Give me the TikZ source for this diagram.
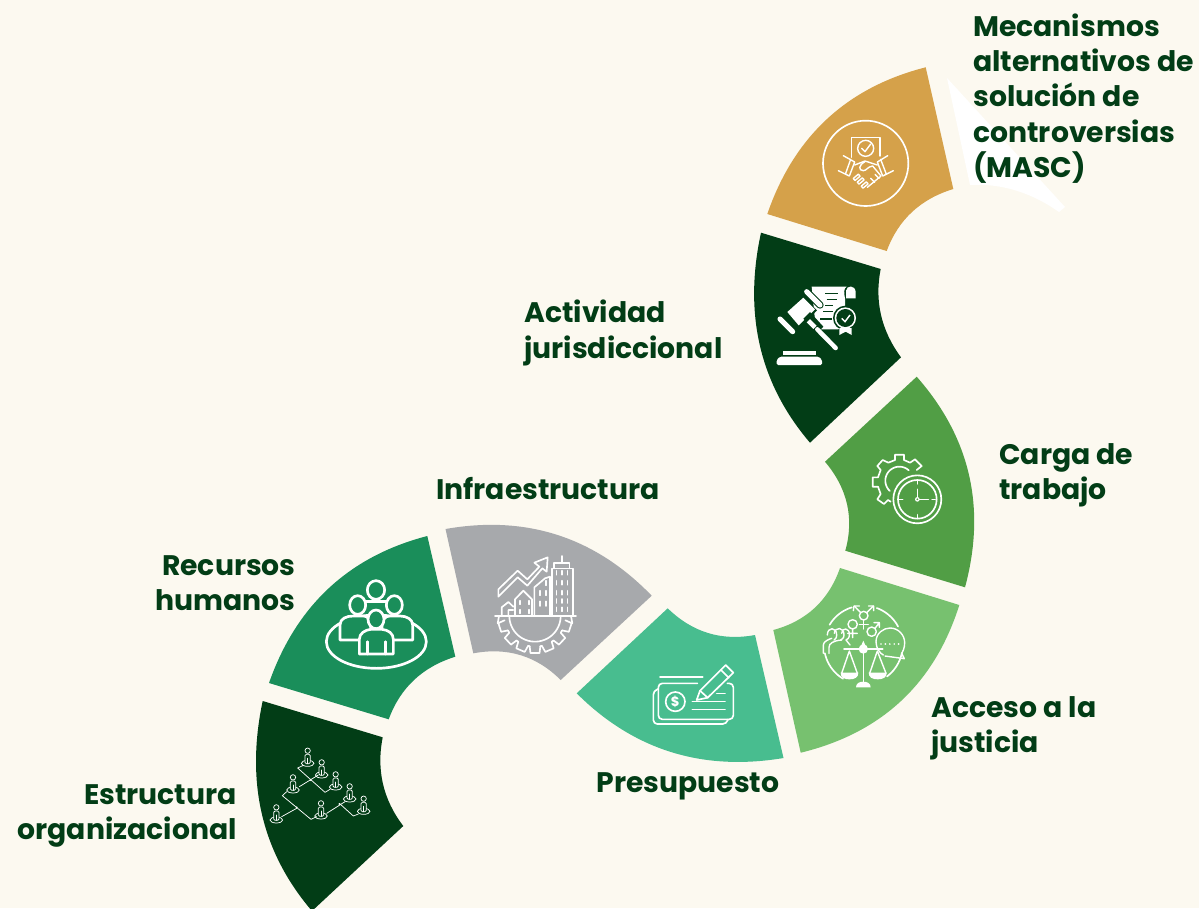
\documentclass[tikz,border=0pt]{standalone}
\usepackage{fontspec}
\setmainfont{Poppins}
\usetikzlibrary{calc}
\definecolor{bgc}{HTML}{FCF9F0}
\definecolor{dk}{HTML}{023D16}
\definecolor{cg}{HTML}{1A8E5A}
\definecolor{gr}{HTML}{A7A9AC}
\definecolor{tq}{HTML}{48BD8F}
\definecolor{lg}{HTML}{77C16F}
\definecolor{mg}{HTML}{519E45}
\definecolor{au}{HTML}{D5A14A}
\tikzset{
  lab/.style={text=dk,font=\bfseries\fontsize{21.2}{26.5}\selectfont,inner sep=0pt,align=left},
  labr/.style={lab,align=right},
  ic/.style={draw=white,line width=1.25pt,line cap=round,line join=round},
  icn/.style={ic,line width=1.05pt},
  icb/.style={draw=white,line width=2pt,line cap=round,line join=round},
  ict/.style={draw=white,line width=.55pt,line cap=round,line join=round}
}
\newcommand\seg[7]{% colour, A, M1, B, C, M2, D
  \coordinate (qa) at ($2*(#3)-.5*(#2)-.5*(#4)$);
  \coordinate (qb) at ($2*(#6)-.5*(#5)-.5*(#7)$);
  \fill[#1] (#2) .. controls ($(#2)!2/3!(qa)$) and ($(#4)!2/3!(qa)$) .. (#4)
   -- (#5) .. controls ($(#5)!2/3!(qb)$) and ($(#7)!2/3!(qb)$) .. (#7) -- cycle;}
\newcommand\parc[6][ic]{\draw[#1] plot[domain=#5:#6,samples=30,smooth] ({#2+#4*cos(\x)},{#3+#4*sin(\x)});}
\newcommand\teeth[6][ic]{% cx cy r1 r2 list
  \foreach \a in {#6}{\draw[#1] ({#2+#4*cos(\a-10)},{#3+#4*sin(\a-10)}) -- ({#2+#5*cos(\a-7)},{#3+#5*sin(\a-7)}) -- ({#2+#5*cos(\a+7)},{#3+#5*sin(\a+7)}) -- ({#2+#4*cos(\a+10)},{#3+#4*sin(\a+10)});}}
\newcommand\orgp[2]{%
  \draw[ict] (#1,#2+12) ellipse (19 and 9);
  \draw[ict,fill=dk] (#1,#2-26) circle (8);
  \draw[ict,fill=dk,rounded corners=1pt] (#1-8,#2+13) -- (#1-8,#2-15) -- (#1+8,#2-15) -- (#1+8,#2+13) -- cycle;
  \draw[ict] (#1,#2+13) -- (#1,#2-3);}
\begin{document}
\begin{tikzpicture}[x=0.75pt,y=-0.75pt]
\useasboundingbox (0,0) rectangle (1199,908);
\clip (0,0) rectangle (1199,908);
\fill[bgc] (0,0) rectangle (1199,908);
% stray white shape
\fill[white] (947,78) -- (1065,207) -- (1059,212) .. controls (1035,195) and (1005,183) .. (970,185) -- cycle;
% ring segments
\seg{dk}{262.7,701}{262,814.5}{312,911}{403.3,826}{383,784}{382.7,737.3}
\seg{cg}{269,683}{329,588}{427.3,536}{455.3,656.7}{414,680}{388.7,719.3}
\seg{gr}{445.5,529}{557.6,535}{651.7,595.7}{560.7,680}{520.7,655.2}{473.3,653.3}
\seg{tq}{576.7,693.3}{671,752}{783.5,758}{755,635}{708,633}{667.7,608.3}
\seg{lg}{800.7,752.7}{901,701}{959.3,605}{840,568}{814.8,607.8}{773.3,630}
\seg{mg}{916.7,376.7}{969,475}{965,587.3}{845.3,550.7}{847,504}{825,461.7}
\seg{dk}{761,232.7}{760,346}{810,442.7}{901,357.3}{881,315}{880.7,269}
\seg{au}{767.3,214}{827,119}{925.7,67.3}{953.3,189}{912,212}{886.7,251}
% --- handshake icon
\begin{scope}[shift={(750,50)},scale=1/3]
 \draw[ic] (347,340) circle (128);
 \draw[icn] (305,322) -- (305,263) -- (390,263) -- (390,318);
 \draw[icn] (347,295) circle (24);
 \draw[icn] (335,295) -- (345,305) -- (362,282);
 \draw[icn] (280,317) -- (314,336) (265,362) -- (298,378) (302,328) -- (287,370) (314,336) -- (298,378);
 \draw[icn] (413,317) -- (382,336) (430,362) -- (398,378) (392,328) -- (408,370) (382,336) -- (398,378);
 \draw[icn] (314,345) -- (345,333) -- (382,345);
 \draw[icn] (345,335) .. controls (325,345) and (325,362) .. (340,362) .. controls (350,362) and (352,350) .. (368,348) -- (393,378) -- (352,412);
 \foreach \p/\q in {320/382,332/393,344/405}{\draw[icn,fill=au,rotate around={40:(\p,\q)}] (\p-10,\q-4) rectangle (\p+10,\q+4);}
 \draw[icn] (362,385) -- (374,397) (375,373) -- (387,385);
\end{scope}
% --- gavel icon
\begin{scope}[shift={(740,230)},scale=1/3]
 \fill[white] (215,170) -- (320,170) .. controls (310,175) and (312,190) .. (315,205) -- (315,280) -- (295,298) -- (225,298) -- (225,270) -- cycle;
 \fill[white] (318,205) -- (318,182) .. controls (320,165) and (345,165) .. (347,185) -- (347,205) -- cycle;
 \draw[dk,line width=.9pt] (255,190) -- (295,190) (260,208) -- (290,208) (255,226) -- (280,226) (250,245) -- (280,245) (240,267) -- (275,267);
 \fill[dk] (316,264) circle (37);
 \fill[white] (316,264) circle (32);
 \fill[dk] (316,264) circle (27);
 \fill[white] (298,294) -- (335,294) -- (335,315) -- (317,305) -- (298,315) -- cycle;
 \draw[white,line width=1.1pt] (305,265) -- (315,275) -- (330,255);
 \draw[dk,line width=5.5pt,line cap=round] (200,185) -- (240,225);
 \draw[white,line width=3.8pt,line cap=round] (120,267) -- (158,305);
 \draw[white,line width=3.8pt,line cap=round] (200,185) -- (240,225);
 \fill[dk] (131,254) -- (187,198) -- (231,241) -- (175,297) -- cycle;
 \fill[white] (142,246) -- (190,203) -- (225,238) -- (176,286) -- cycle;
 \fill[dk] (190,266) -- (210,246) -- (250,290) -- (230,310) -- cycle;
 \draw[white,line width=3.5pt] (205,272) -- (225,292);
 \draw[white,line width=3.4pt,line cap=round] (232,298) -- (287,354);
 \fill[white,rounded corners=1pt] (110,405) -- (110,390) -- (120,380) -- (236,380) -- (246,390) -- (246,405) -- cycle;
 \fill[white] (130,362) rectangle (227,375);
\end{scope}
% --- gear clock icon
\begin{scope}[shift={(740,230)},scale=1/3]
 \draw[ic] (532,808) circle (72) (532,808) circle (58);
 \draw[ic] (532,808) -- (532,778) (532,808) -- (565,808);
 \fill[white] (532,808) circle (7);
 \fill[mg] (532,808) circle (3);
 \draw[icn] (532,752) -- (532,762) (478,808) -- (488,808) (576,808) -- (586,808) (532,854) -- (532,864);
 \parc{478}{752}{42}{-48}{-227}
 \draw[ic] plot coordinates {(530,720) (545,708) (525,688) (510,698) (492,690) (492,674) (465,674) (465,690) (445,698) (428,690) (412,708) (422,720) (414,742) (398,742) (398,770) (414,770) (422,792) (412,808) (432,822) (444,810) (452,815)};
\end{scope}
% --- scales icon
\begin{scope}[shift={(770,570)},scale=1/3]
 \parc{280}{225}{118}{211}{253}
 \parc{280}{225}{118}{-70}{-28}
 \parc{280}{225}{118}{168}{121}
 \parc{280}{225}{118}{53}{12}
 \draw[icn] (281,137) circle (13);
 \draw[icn] (272,128) -- (253,108) (290,128) -- (310,108);
 \draw[icn] (250,122) -- (252,108) -- (268,108) (296,108) -- (311,108) -- (311,122);
 \draw[icn] (281,150) -- (281,177) (268,163) -- (295,163);
 \draw[icn] (248,163) circle (14) (248,177) -- (248,203) (233,190) -- (262,190);
 \draw[icn] (305,185) circle (14) (315,175) -- (328,158) (312,158) -- (328,158) -- (328,172);
 \draw[icn] (172,195) .. controls (172,170) and (200,170) .. (200,195) .. controls (200,205) and (195,208) .. (192,210);
 \draw[icn] (193,190) .. controls (195,170) and (222,170) .. (222,195) .. controls (222,205) and (215,208) .. (212,210);
 \draw[icn] (215,190) .. controls (215,172) and (240,172) .. (238,195) .. controls (238,205) and (232,208) .. (228,210) -- (240,225);
 \draw[icn] (160,250) -- (160,225) .. controls (160,215) and (175,208) .. (185,205);
 \draw[icn] (177,250) -- (177,232) .. controls (177,220) and (190,212) .. (215,210);
 \draw[icn] (340,255) .. controls (330,250) and (318,235) .. (318,215) .. controls (318,190) and (340,174) .. (360,174) .. controls (385,174) and (404,195) .. (404,218) .. controls (404,235) and (398,245) .. (395,250) -- (403,266) -- (345,258);
 \draw[white,line width=1.4pt,line cap=round,dash pattern=on 0pt off 3.3pt] (333,222) -- (388,222);
 \draw[ic] (222,237) -- (338,237);
 \fill[white] (280,237) circle (14) (273,228) -- (280,212) -- (287,228) -- cycle;
 \draw[ic] (280,250) -- (280,338);
 \fill[white] (258,352) .. controls (258,340) and (268,335) .. (280,335) .. controls (292,335) and (302,340) .. (302,352) -- cycle;
 \draw[icn] (238,243) -- (215,310) (238,243) -- (262,310) (322,243) -- (299,310) (322,243) -- (348,310);
 \fill[white] (212,308) -- (265,308) .. controls (265,322) and (255,328) .. (238,328) .. controls (222,328) and (212,322) .. (212,308) -- cycle;
 \fill[white] (296,308) -- (350,308) .. controls (350,322) and (340,328) .. (323,328) .. controls (307,328) and (296,322) .. (296,308) -- cycle;
\end{scope}
% --- cheque icon
\begin{scope}[shift={(440,530)},scale=1/3]
 \draw[ic] (660,440) -- (788,440);
 \draw[ic,rounded corners=3pt] (772,460) -- (655,460) -- (655,568) -- (880,568) -- (880,460) -- (862,460);
 \draw[ic,rounded corners=3pt] (655,477) -- (640,482) -- (640,582) -- (860,582) -- (864,568);
 \draw[ic] (706,515) circle (29);
 \node[inner sep=0pt,text=white,font=\bfseries\fontsize{10}{10}\selectfont] (dollar) at (706,515) {\$};
 \draw[ic] (757,514) -- (855,514) (757,538) -- (855,538) (830,490) -- (855,490);
 \draw[ic] (770,510) -- (780,482) -- (857,405) -- (880,428) -- (803,503) -- cycle;
 \draw[ic] (843,420) -- (866,443) (780,482) -- (803,503);
\end{scope}
% --- building gear icon
\begin{scope}[shift={(440,530)},scale=1/3]
 \draw[ic] (165,258) -- (408,258);
 \parc{285}{258}{77}{0}{180}
 \teeth{285}{258}{92}{112}{18,43,67,90,113,137,162}
 \foreach \a/\b in {28/33,53/57,77/80,100/103,123/127,147/152}{\parc{285}{258}{92}{\a}{\b}}
 \draw[ic] (177,258) -- (173,280) (393,258) -- (397,280);
 \draw[ic] (335,258) -- (335,115) -- (398,115) -- (398,258) (342,115) -- (342,98) -- (388,98) -- (388,115) (365,98) -- (365,78);
 \foreach \y in {130,160,190,215,240}{\foreach \x in {349,366,382}{\draw[ic] (\x,\y-8) -- (\x,\y+4);}}
 \draw[ic] (283,258) -- (283,172) -- (315,145) -- (330,140) -- (330,258);
 \foreach \x/\y in {300/190,318/160,318/190,300/222,318/222}{\draw[ic] (\x,\y-8) -- (\x,\y+6);}
 \draw[ic] (225,258) -- (225,208) -- (250,182) -- (276,208) -- (276,258);
 \foreach \x/\y in {240/218,266/218,240/245,266/245}{\draw[ic] (\x,\y-6) -- (\x,\y+5);}
 \draw[ic] (185,258) -- (185,232) -- (205,216) -- (220,230) (205,258) -- (205,240) -- (220,240);
 \draw[ic] (175,178) -- (233,122) -- (262,148) -- (298,110) -- (283,98) -- (323,82) -- (320,125) -- (307,115) -- (262,167) -- (233,142) -- (175,200) -- cycle;
\end{scope}
% --- people icon
\begin{scope}[shift={(250,530)},scale=1/3]
 \draw[icb] (379,335) ellipse (150 and 80);
 \tikzset{pf/.style={icb,fill=cg}}
 \draw[pf] (340,235) -- (340,215) -- (416,215) -- (416,235);
 \draw[pf] (378,180) ellipse (26 and 28);
 \draw[pf] (270,330) -- (270,285) .. controls (270,265) and (290,258) .. (310,258) -- (340,258) .. controls (355,258) and (360,270) .. (362,285) -- (362,330) -- cycle;
 \draw[pf] (323,225) ellipse (24 and 28);
 \draw[pf] (396,285) .. controls (396,270) and (405,258) .. (420,258) -- (450,258) .. controls (470,258) and (488,268) .. (488,285) -- (488,330) -- (396,330) -- cycle;
 \draw[pf] (433,225) ellipse (24 and 28);
 \draw[pf] (328,372) -- (328,328) .. controls (328,310) and (345,300) .. (362,298) -- (396,298) .. controls (415,300) and (430,310) .. (430,328) -- (430,372) -- cycle;
 \draw[pf] (378,268) ellipse (24 and 28);
 \draw[icb] (352,335) -- (352,372) (406,335) -- (406,372);
\end{scope}
% --- org chart icon
\begin{scope}[shift={(250,530)},scale=1/3]
 \draw[ict] (160,706) -- (143,714) -- (225,787) -- (240,778);
 \draw[ict] (110,785) -- (97,797) -- (183,868) -- (200,860);
 \draw[ict] (148,770) -- (205,735);
 \draw[ict] (95,860) -- (140,835);
 \draw[ict] (230,850) -- (285,815);
 \draw[ict] (268,820) -- (310,858) -- (325,852);
 \fill[white] (182,750) circle (3) (268,822) circle (3) (140,832) circle (3);
 \orgp{173}{688}
 \orgp{215}{723}
 \orgp{257}{759}
 \orgp{299}{795}
 \orgp{341}{832}
 \orgp{129}{768}
 \orgp{213}{846}
 \orgp{79}{858}
\end{scope}
% --- labels
\node[lab,anchor=west] (masc) at (973,98.5) {Mecanismos\\alternativos de\\solución de\\controversias\\(MASC)};
\node[lab,anchor=west] (act) at (524,333) {Actividad\\jurisdiccional};
\node[lab,anchor=west] (carga) at (999,475) {Carga de\\trabajo};
\node[lab,anchor=west] (acceso) at (931,728) {Acceso a la\\justicia};
\node[lab,anchor=center] (pres) at (688,786) {Presupuesto};
\node[lab,anchor=center] (infra) at (548,489) {Infraestructura};
\node[labr,anchor=east] (rec) at (296,583) {Recursos\\humanos};
\node[labr,anchor=east] (est) at (237,816) {Estructura\\organizacional};
\end{tikzpicture}
\end{document}
